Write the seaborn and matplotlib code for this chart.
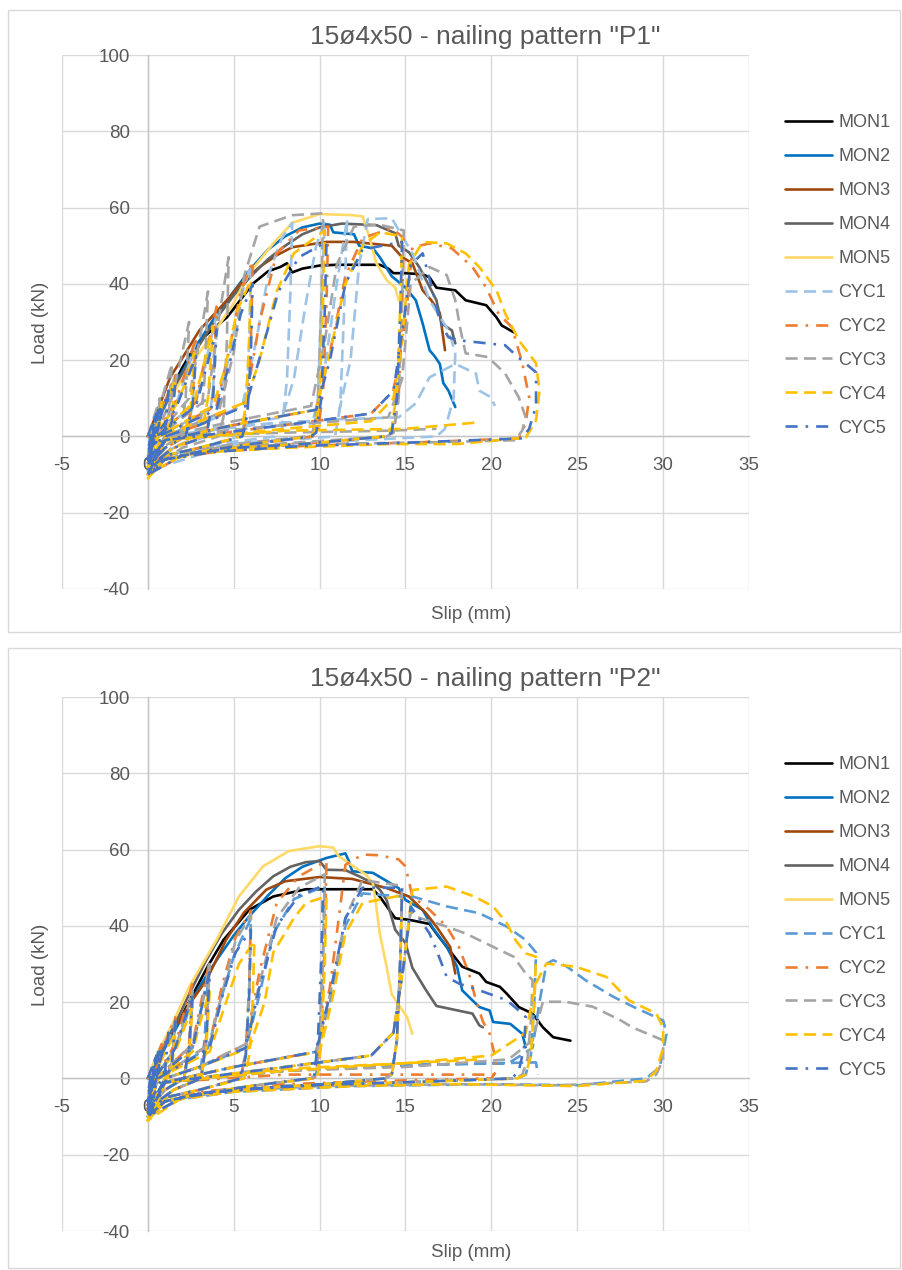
import matplotlib
matplotlib.use("Agg")
import matplotlib.pyplot as plt
from matplotlib.lines import Line2D
from matplotlib.patches import Rectangle
import pandas as pd
import seaborn as sns

# ---------------- data ----------------
SERIES = ["MON1", "MON2", "MON3", "MON4", "MON5", "CYC1", "CYC2", "CYC3", "CYC4", "CYC5"]
TITLES = ['15ø4x50 - nailing pattern "P1"', '15ø4x50 - nailing pattern "P2"']
X_TICKS = [-5, 0, 5, 10, 15, 20, 25, 30, 35]
Y_TICKS = [-40, -20, 0, 20, 40, 60, 80, 100]
X_LABEL = "Slip (mm)"
Y_LABEL = "Load (kN)"

# ---- pattern P1 ----
P1_MON1 = [(0, 0), (0.5, 4.5), (1, 9), (2, 18), (2.6, 22.5), (3, 25), (4, 29), (4.6, 31.2), (5, 33.5),
           (6.1, 40), (7, 43.3), (7.7, 44.4), (8.1, 45.4), (8.4, 43), (9, 44), (10, 44.8), (11, 45),
           (13.5, 45), (14, 44), (14.3, 42.8), (15, 42.8), (16, 42.5), (16.4, 41.7), (16.8, 39),
           (17.9, 38.3), (18.5, 35.7), (19.7, 34.4), (20.3, 31.2), (20.6, 29.1), (21.3, 27.3)]
P1_MON2 = [(0, 0), (1, 9), (2, 17), (3, 25), (4, 32), (5, 38), (6, 44), (7, 49), (8, 52.5), (9, 54.8),
           (10, 55.8), (10.6, 55.5), (10.8, 53.5), (12, 53), (12.3, 50), (13.1, 49.3), (13.5, 47),
           (14.2, 42), (15, 39), (15.6, 35.7), (16, 29.6), (16.4, 22.6), (16.7, 21), (17, 19),
           (17.2, 14), (17.5, 12), (17.9, 7.7)]
P1_MON3 = [(0, 0), (0.5, 6), (1.3, 15.5), (2, 20.5), (3, 27.8), (4.6, 35.7), (5.5, 40.5), (6.5, 44.4),
           (7.5, 47.5), (8.4, 49.6), (10.4, 51), (12, 51), (14.2, 50), (14.8, 47), (15.4, 45.4),
           (16, 38.3), (16.5, 35.7), (17, 32.3), (17.3, 22.6)]
P1_MON4 = [(0, 0), (1, 8.5), (2, 16.5), (3, 24), (4, 31), (5, 37), (6, 42), (7, 46.5), (8, 50), (9, 53),
           (10, 54.8), (11.3, 55.8), (13.3, 55.4), (14.4, 53.3), (14.6, 50), (15.2, 48.3), (15.8, 44.4),
           (16.2, 41), (16.8, 35.7), (17.1, 29.6), (17.7, 27.8), (17.9, 24.4)]
P1_MON5 = [(0, 0), (1, 8), (2, 15), (3, 22), (4.2, 29.6), (5, 35), (5.9, 42.8), (7.3, 50.6), (8.4, 56),
           (10, 58.3), (11.9, 58), (12.5, 57.7), (12.9, 52.2), (13.3, 45.4), (13.9, 41), (14.4, 39),
           (14.6, 35.7)]
P1_CYC1 = [(0, 0), (0.8, 9), (0.6, 2), (0.3, -2), (0, -5),
           (0.3, 0), (0.8, 6), (1.6, 16), (1.4, 4), (1, -1), (0, -6),
           (0.4, 0), (1.6, 8), (2.2, 16), (2.8, 25), (2.6, 8), (2.2, 0), (1, -3), (0, -7),
           (0.5, 0), (2.8, 9), (3.4, 20), (4, 32), (3.8, 12), (3.4, 0), (1.5, -3), (0, -8),
           (0.6, 0), (4, 8), (4.8, 22), (5.3, 35), (6, 45), (5.9, 25), (5.7, 6), (5.3, 0), (3, -3), (1, -5), (0, -8),
           (1, 0), (3, 3), (5.5, 8), (6.3, 25), (7, 42), (7.8, 52), (8.4, 56), (8.3, 38), (8.1, 15), (7.8, 2),
           (7.4, 0), (4, -2), (1, -5), (0, -9),
           (1, 0), (5, 3), (7.8, 5), (8.5, 15), (9.2, 35), (9.8, 50), (10.3, 56.5), (10.1, 35), (9.9, 10),
           (9.6, 0), (5, -2), (1, -5), (0, -9),
           (1, 0), (6, 3), (9.6, 4), (10.2, 15), (11, 40), (11.6, 57), (11.4, 30), (11.2, 8), (10.9, 0),
           (5, -2), (0, -9),
           (1, 0), (8, 3), (11, 4), (11.8, 20), (12.3, 45), (12.8, 57), (14.2, 57.2), (15.4, 48),
           (16.4, 35.7), (17.5, 27.8), (17.9, 22), (17.8, 10), (17.3, 2), (16.8, 0), (10, -1.5), (4, -3),
           (1, -6), (0, -9),
           (1, 0), (6, 3), (11, 4.5), (14.6, 5), (15.6, 8.7), (16.4, 15.5), (17.9, 19), (19.1, 16.5),
           (19.3, 12), (20, 10.2), (20.2, 8)]
P1_CYC2 = [(0, 0), (0.8, 9), (0.6, 2), (0.3, -2), (0, -6),
           (0.3, 0), (0.8, 7), (1.6, 16), (1.4, 5), (1, -1), (0, -7),
           (0.4, 0), (1.6, 9), (2.2, 17), (2.8, 26), (2.6, 9), (2.2, 0), (1, -3), (0, -8),
           (0.5, 0), (2.8, 9), (3.4, 22), (4, 34), (3.8, 12), (3.4, 0), (1.5, -3), (0, -8),
           (0.6, 0), (4, 8), (4.8, 24), (5.4, 38), (6.1, 46), (6, 25), (5.8, 7), (5.5, 0), (3, -3), (1, -5), (0, -9),
           (1, 0), (3, 3), (5.7, 9), (6.5, 30), (7.5, 48), (8.8, 54), (10.5, 55), (10.4, 35), (10.2, 12),
           (9.9, 1), (9.6, 0), (6, -2), (3, -4), (1, -6), (0, -10),
           (1, -1), (5, 3), (9.8, 7), (10.6, 22), (11.5, 42), (12.5, 52), (14.2, 54.6), (14.9, 52),
           (14.8, 33), (14.6, 10), (14.3, 1), (13.9, 0), (9, -2), (5, -3), (2, -5), (0, -10),
           (1, -1), (8, 3), (13, 6), (14.3, 12), (15, 30), (15.4, 49.6), (16.4, 50.6), (17.7, 49.3),
           (18.9, 44.4), (19.7, 39), (20.4, 32.3), (21.2, 28.6), (21.8, 19.2), (22.2, 10.2), (22, 3.4),
           (21.6, -0.5), (16, -1.5), (9, -2.5), (4, -4), (1, -6), (0, -10)]
P1_CYC3 = [(0, 0), (0.7, 10), (0.5, 2), (0.2, -2), (0, -6),
           (0.3, 0), (0.7, 8), (1.4, 19), (1.2, 5), (0.9, -1), (0, -7),
           (0.4, 0), (1.4, 10), (1.9, 20), (2.4, 30), (2.2, 10), (1.9, 0), (0.8, -3), (0, -8),
           (0.5, 0), (2.4, 10), (3, 25), (3.5, 38), (3.3, 15), (3, 0), (1.4, -3), (0, -8),
           (0.6, 0), (3.5, 10), (4.1, 30), (4.7, 47), (4.6, 25), (4.4, 5), (4.1, 0), (2, -3), (0, -9),
           (1, 0), (4.1, 6), (5, 22), (5.6, 42), (6.5, 55), (8.4, 58), (10.2, 58.5), (10.1, 35), (9.9, 10),
           (9.6, 1), (9.2, 0), (5, -2), (1, -5), (0, -10),
           (1, 0), (5, 4), (9.5, 8), (10.3, 25), (11, 45), (12, 55), (13.5, 55.5), (14.9, 54),
           (14.8, 35), (14.6, 10), (14.3, 1), (13.9, 0), (9, -1.5), (4, -3), (1, -6), (0, -10),
           (1, 0), (8, 3), (14, 5), (14.8, 15), (15.3, 40), (16.4, 44.4), (17.4, 42.3), (17.9, 35.7),
           (18.2, 28), (18.5, 21.8), (19.8, 20.8), (20.8, 16.5), (21.6, 10.2), (22, 5), (21.8, 1.6),
           (21.4, -1), (17, -1.5), (10, -2), (4, -3), (1, -6), (0, -10),
           (1, 0), (8, 1), (14, 1.5), (16.8, 2)]
P1_CYC4 = [(0, 0), (0.8, 9), (0.7, 3), (0.4, -2), (0, -6),
           (0.3, 0), (0.8, 6), (1.6, 15), (1.4, 5), (1, -1), (0.4, -3), (0, -7),
           (0.4, 0), (1.6, 8), (2.2, 14), (2.7, 22), (2.5, 8), (2.1, 0), (1, -3), (0, -8),
           (0.5, 0), (2.7, 9), (3.2, 18), (3.8, 29), (3.5, 10), (3.1, 0), (1.5, -3), (0, -8),
           (0.6, 0), (3.8, 8), (4.5, 18), (5.2, 33), (6, 41), (5.9, 25), (5.7, 8), (5.4, 0), (3, -3), (1, -5), (0, -9),
           (0.8, 0), (3, 4), (5.7, 9), (6.5, 20), (7.5, 38), (8.5, 48), (10.3, 54), (10.2, 35), (10, 12),
           (9.8, 2), (9.5, 0), (6, -2), (3, -4), (1, -6), (0, -10),
           (1, -1), (5, 3), (9.8, 7), (10.5, 20), (11.5, 40), (12.5, 50), (13.5, 53.5), (14.8, 52.5),
           (14.7, 35), (14.5, 12), (14.2, 2), (13.8, 0), (9, -2), (5, -3), (2, -5), (0, -10),
           (1, -1), (8, 2), (13, 4), (14.3, 10), (14.8, 25), (15.2, 45), (16, 51), (17.4, 50.6),
           (18.5, 48), (19.3, 44.4), (20.3, 38.3), (20.8, 32.3), (21.6, 25.2), (22.6, 19.2), (22.8, 12),
           (22.6, 4.2), (22, -0.3), (18, -2), (14, -2), (8, -3), (4, -4), (1, -6), (0, -11),
           (1, -1), (8, 1.5), (15, 2), (19.3, 3.7)]
P1_CYC5 = [(0, 0), (0.4, 5), (0.3, 0), (0, -4), (0.2, 1), (0.5, 6), (0.3, 0), (0, -5), (0.6, 7),
           (0.4, 0), (0, -6), (1.2, 12), (1, 2), (0.5, -3), (0, -7),
           (0.2, 1), (0.8, 8), (0.6, 2), (0.3, -2), (0, -6),
           (0.3, 0), (0.8, 6), (1.6, 14), (1.4, 4), (1, -1), (0, -7),
           (0.4, 0), (1.6, 7), (2.2, 14), (2.8, 21), (2.6, 8), (2.2, 0), (1, -3), (0, -8),
           (0.5, 0), (2.8, 8), (3.4, 18), (4, 28), (3.8, 10), (3.4, 0), (1.5, -3), (0, -8),
           (0.6, 0), (4, 7), (4.8, 20), (5.4, 32), (6.1, 40), (6, 22), (5.8, 6), (5.5, 0), (3, -3), (1, -5), (0, -9),
           (1, 0), (3, 3), (5.7, 8), (6.6, 22), (7.6, 38), (8.8, 47), (10.4, 51), (10.3, 33), (10.1, 10),
           (9.8, 1), (9.5, 0), (6, -2), (3, -4), (1, -6), (0, -10),
           (1, -1), (5, 3), (9.8, 7), (10.6, 20), (11.5, 40), (12.5, 49), (14.8, 51), (14.7, 33),
           (14.5, 10), (14.2, 1), (13.8, 0), (9, -2), (5, -3), (2, -5), (0, -10),
           (1, -1), (8, 3), (13, 6), (14.3, 12), (14.9, 30), (15.3, 45), (16, 48), (16.6, 38), (17, 30),
           (17.5, 26), (18.1, 25.2), (20.8, 23.9), (21.5, 21), (22.6, 16.8), (22.6, 8), (22.2, 2),
           (21.8, -0.5), (16, -1.5), (9, -2.5), (4, -4), (1, -6), (0, -10)]

# ---- pattern P2 ----
P2_MON1 = [(0, 0), (0.5, 5), (1.45, 11.7), (2.5, 21), (3.5, 29.5), (4.4, 36.3), (5.9, 44.2), (7.3, 47.7),
           (9.2, 49.6), (13.1, 49.6), (13.5, 47.7), (14.4, 42), (15.2, 41.6), (16.4, 40.5), (16.8, 38),
           (17.4, 34.5), (18.3, 29.3), (19.3, 27.5), (19.7, 25.3), (20.5, 24), (20.9, 22.2), (21.6, 18.7),
           (22.4, 17), (23, 13.4), (23.6, 10.8), (24.6, 9.9)]
P2_MON2 = [(0, 0), (1, 8), (2, 16), (3, 24), (4, 31), (5, 37.5), (6, 43), (7, 48), (8, 52.5), (9, 55.5),
           (10.4, 57.8), (11.5, 59), (11.7, 57), (11.9, 54.3), (13.1, 53.9), (14.6, 49.9), (15, 46.8),
           (16, 44.2), (16.6, 39.4), (17.4, 34.5), (18, 29.3), (18.3, 23.1), (19.3, 18.7), (19.9, 17.8),
           (20.1, 14.8), (21.1, 14.3), (21.8, 11.7), (22, 8.2)]
P2_MON3 = [(0, 0), (0.5, 5), (1.45, 12.6), (2.5, 20), (3.4, 25.7), (4.55, 36.3), (5.6, 43.5), (6.9, 49.5),
           (8, 51.7), (10, 52.8), (11.9, 52.3), (13.9, 49.9), (15.2, 47.7), (16.2, 43.3), (16.8, 39.8),
           (17.6, 34.5), (17.9, 27.5)]
P2_MON4 = [(0, 0), (0.5, 5.5), (1.5, 13.5), (2.5, 23), (3.4, 31), (4.3, 38), (5.3, 44.2), (6.3, 49),
           (7.3, 53), (8.3, 55.5), (9.2, 56.7), (10, 57), (10.4, 54.7), (11.5, 54.6), (12.3, 53),
           (13.1, 51.2), (13.5, 49.5), (13.9, 46.8), (14.4, 39), (15, 35.5), (15.4, 29), (16.2, 23.1),
           (16.8, 19), (18.9, 17), (19.3, 13.9), (19.5, 13.4)]
P2_MON5 = [(0, 0), (0.5, 6), (1.5, 15), (2.4, 24), (4, 36.3), (5.3, 47.7), (6.7, 55.6), (8.2, 59.6),
           (10, 60.9), (10.8, 60.5), (11.1, 58.3), (12.7, 53.4), (13.1, 51.2), (13.3, 45), (13.5, 38),
           (13.9, 29.3), (14.2, 22), (14.7, 18.7), (15.1, 16), (15.4, 11.7)]
P2_CYC1 = [(0, 0), (0.8, 8), (0.6, 2), (0.3, -2), (0, -6),
           (0.3, 0), (0.8, 6), (1.6, 14), (1.4, 4), (1, -1), (0, -7),
           (0.4, 0), (1.6, 8), (2.1, 14), (2.6, 21), (2.4, 7), (2.1, 0), (1, -3), (0, -8),
           (0.5, 0), (2.6, 8), (3, 16), (3.5, 27), (3.3, 10), (3, 0), (1.5, -3), (0, -8),
           (0.6, 0), (3.5, 8), (4.2, 20), (5, 32), (6, 42), (5.9, 22), (5.7, 6), (5.4, 0), (3, -3), (1, -5), (0, -9),
           (1, 0), (3, 3), (5.7, 8), (6.5, 22), (7.3, 38), (8.5, 47), (10.3, 50.5), (10.2, 32), (10, 10),
           (9.8, 1), (9.5, 0), (6, -2), (3, -4), (1, -6), (0, -10),
           (1, -1), (5, 3), (9.8, 7), (10.6, 20), (11.5, 40), (12.5, 48.5), (14.8, 47.7), (14.7, 30),
           (14.5, 10), (14.2, 1), (13.8, 0), (9, -2), (5, -3), (2, -5), (0, -10),
           (1, -1), (8, 3), (13, 6), (14.3, 12), (14.9, 30), (15.4, 47.7), (17.4, 45.1), (19.3, 43.3),
           (20.9, 39.8), (22, 36.3), (22.6, 33), (22.5, 20), (22.3, 6), (22, 1), (21.5, 0), (15, -1),
           (8, -2), (3, -4), (1, -6), (0, -10),
           (1, -1), (8, 2), (15, 3.5), (21, 4), (22.4, 8), (22.8, 20), (23.2, 30), (23.6, 31), (24.4, 29.3),
           (25.5, 25.7), (27.1, 21.4), (28.3, 18.7), (30, 15.2), (30.2, 11.7), (29.8, 2.9), (29, 0),
           (25, -1.8), (20, -1.5), (12, -2), (5, -3.5), (1, -6), (0, -10),
           (1, -1), (8, 2), (15, 3.5), (22.6, 4.2), (22.7, 1)]
P2_CYC2 = [(0, 0), (0.8, 9), (0.6, 2), (0.3, -2), (0, -6),
           (0.3, 0), (0.8, 7), (1.6, 16), (1.4, 5), (1, -1), (0, -7),
           (0.4, 0), (1.6, 9), (2.1, 17), (2.6, 25), (2.4, 9), (2.1, 0), (1, -3), (0, -8),
           (0.5, 0), (2.6, 9), (3.1, 20), (3.6, 31), (3.4, 11), (3.1, 0), (1.5, -3), (0, -8),
           (0.6, 0), (3.6, 9), (4.3, 24), (5.1, 37), (6, 44), (5.9, 24), (5.7, 7), (5.4, 0), (3, -3), (1, -5), (0, -9),
           (1, 0), (3, 3), (5.7, 9), (6.5, 28), (7.5, 46), (8.8, 53), (10.4, 57), (10.3, 36), (10.1, 12),
           (9.9, 1), (9.6, 0), (6, -2), (3, -4), (1, -6), (0, -10),
           (1, -1), (5, 3), (9.8, 7), (10.6, 24), (11.2, 45), (11.5, 56), (12.5, 58.7), (13.5, 58.5),
           (14.6, 57.4), (15, 55.6), (15.4, 47.7), (16.4, 44.2), (17.4, 39.8), (18.1, 34.5), (18.7, 27.5),
           (19.1, 20.5), (19.5, 15), (19.9, 11.7), (20.2, 6), (20.3, 2), (20, 0), (15, -0.5), (8, -1.5),
           (3, -3.5), (1, -6), (0, -10),
           (1, -1), (8, 1), (15, 1), (20.5, 1)]
P2_CYC3 = [(0, 0), (0.8, 8), (0.6, 2), (0.3, -2), (0, -6),
           (0.3, 0), (0.8, 6), (1.6, 15), (1.4, 4), (1, -1), (0, -7),
           (0.4, 0), (1.6, 8), (2.1, 15), (2.6, 23), (2.4, 8), (2.1, 0), (1, -3), (0, -8),
           (0.5, 0), (2.6, 9), (3.1, 18), (3.6, 30), (3.4, 10), (3.1, 0), (1.5, -3), (0, -8),
           (0.6, 0), (3.6, 9), (4.3, 22), (5.1, 36), (6, 43), (5.9, 24), (5.7, 7), (5.4, 0), (3, -3), (1, -5), (0, -9),
           (1, 0), (3, 3), (5.7, 9), (6.5, 25), (7.5, 42), (8.8, 50), (10.3, 53.5), (10.2, 33), (10, 10),
           (9.8, 1), (9.5, 0), (6, -2), (3, -4), (1, -6), (0, -10),
           (1, -1), (5, 3), (9.8, 7), (10.6, 22), (11.5, 42), (12.5, 52), (14.8, 50.5), (14.7, 32),
           (14.5, 10), (14.2, 1), (13.8, 0), (9, -2), (5, -3), (2, -5), (0, -10),
           (1, -1), (8, 3), (13, 6), (14.3, 12), (14.9, 30), (15.3, 44), (15.6, 42.4), (17.4, 39.8),
           (18.5, 38), (20.1, 34.5), (21.3, 31.9), (22, 27.5), (22.4, 25.8), (22.3, 15), (22.1, 5),
           (21.8, 1), (21.4, 0), (15, -1), (8, -2), (3, -4), (1, -6), (0, -10),
           (1, -1), (8, 2), (15, 3), (21, 5), (22.4, 10), (23, 20.1), (24.3, 20.1), (25.9, 18.8),
           (27.5, 15.3), (28.2, 13.4), (30, 10), (30, 5), (29.6, 1), (29, -0.8), (24, -1.8), (18, -1.5),
           (10, -2), (4, -3.5), (1, -6), (0, -10)]
P2_CYC4 = [(0, 0), (0.8, 7), (0.6, 2), (0.3, -2), (0, -7),
           (0.3, 0), (0.8, 5), (1.6, 12), (1.4, 3), (1, -1), (0, -8),
           (0.4, 0), (1.6, 7), (2.1, 13), (2.6, 19), (2.4, 6), (2.1, 0), (1, -3), (0, -9),
           (0.5, 0), (2.6, 7), (3, 14), (3.6, 23), (3.4, 8), (3.1, 0), (1.5, -3), (0, -9),
           (0.6, 0), (3.6, 7), (4.4, 18), (5.3, 30), (6.2, 36), (6.1, 20), (5.9, 6), (5.6, 0), (3, -3), (1, -5), (0, -10),
           (1, 0), (3, 3), (5.9, 8), (6.8, 20), (7.3, 33), (8.5, 42), (9.2, 46), (10.4, 47.7), (10.3, 30),
           (10.1, 10), (9.9, 1), (9.6, 0), (6, -2), (3, -4), (1, -6), (0, -11),
           (1, -1), (5, 3), (10, 7), (10.7, 20), (11.5, 38), (12.5, 46), (14.8, 48), (14.7, 30), (14.5, 10),
           (14.2, 1), (13.8, 0), (9, -2), (5, -3), (2, -5), (0, -11),
           (1, -1), (8, 3), (13, 6), (14.3, 12), (14.9, 30), (15.4, 49.4), (17.4, 50.3), (19, 47.7),
           (20.1, 45.1), (20.9, 40.7), (21.4, 36.3), (22, 32.8), (22.6, 31.9), (22.5, 20), (22.3, 6),
           (22, 1), (21.5, 0), (15, -1), (8, -2), (3, -4), (1, -6), (0, -11),
           (1, -1), (8, 2), (15, 4), (20, 6), (22, 12), (22.6, 25), (23.2, 30.1), (24.9, 29.3),
           (26.7, 26.6), (28, 20.5), (29.6, 17), (30, 13.4), (30, 8), (29.6, 2), (29, -0.6), (25, -2),
           (18, -1.5), (12, -2), (5, -3.5), (1, -6), (0, -11),
           (1, -1), (8, 2.5), (15, 4), (19.5, 5)]
P2_CYC5 = [(0, 0), (0.4, 5), (0.3, 0), (0, -4), (0.2, 1), (0.5, 6), (0.3, 0), (0, -5), (0.6, 7),
           (0.4, 0), (0, -6), (1.2, 12), (1, 2), (0.5, -3), (0, -7),
           (0.2, 1), (0.8, 8), (0.6, 2), (0.3, -2), (0, -6),
           (0.3, 0), (0.8, 6), (1.6, 15), (1.4, 4), (1, -1), (0, -7),
           (0.4, 0), (1.6, 8), (2.1, 15), (2.6, 22), (2.4, 8), (2.1, 0), (1, -3), (0, -8),
           (0.5, 0), (2.6, 8), (3.1, 18), (3.6, 28), (3.4, 10), (3.1, 0), (1.5, -3), (0, -8),
           (0.6, 0), (3.6, 8), (4.3, 21), (5.1, 33), (6, 39), (5.9, 22), (5.7, 6), (5.4, 0), (3, -3), (1, -5), (0, -9),
           (1, 0), (3, 3), (5.7, 8), (6.5, 24), (7.5, 40), (8.8, 48), (10.2, 50.5), (10.1, 32), (9.9, 10),
           (9.7, 1), (9.4, 0), (6, -2), (3, -4), (1, -6), (0, -10),
           (1, -1), (5, 3), (9.8, 7), (10.6, 22), (11.5, 42), (12.5, 50), (14.8, 50), (14.7, 32), (14.5, 10),
           (14.2, 1), (13.8, 0), (9, -2), (5, -3), (2, -5), (0, -10),
           (1, -1), (8, 3), (13, 6), (14.3, 12), (14.9, 30), (15.3, 45), (15.8, 42), (16.4, 38),
           (16.8, 33.7), (17.4, 26.6), (18.1, 24.9), (19.3, 23.1), (20.9, 20.5), (21.6, 17.8), (22, 16.1),
           (21.9, 8), (21.6, 2), (21.2, 0), (15, -1), (8, -2), (3, -4), (1, -6), (0, -10)]

PANEL_DATA = [
    [P1_MON1, P1_MON2, P1_MON3, P1_MON4, P1_MON5, P1_CYC1, P1_CYC2, P1_CYC3, P1_CYC4, P1_CYC5],
    [P2_MON1, P2_MON2, P2_MON3, P2_MON4, P2_MON5, P2_CYC1, P2_CYC2, P2_CYC3, P2_CYC4, P2_CYC5],
]

# ---------------- style ----------------
BASE_COLORS = {"MON1": "#000000", "MON2": "#0070C0", "MON3": "#9E480E", "MON4": "#636363",
               "MON5": "#FFD966", "CYC2": "#ED7D31", "CYC3": "#A5A5A5", "CYC4": "#FFC000",
               "CYC5": "#4472C4"}
CYC1_COLORS = ["#9DC3E6", "#5B9BD5"]
DASH = (4.6, 2.4)
DASHDOT = (4.6, 3.0, 1.0, 3.0)
DASHES = {"MON1": "", "MON2": "", "MON3": "", "MON4": "", "MON5": "",
          "CYC1": DASH, "CYC2": DASHDOT, "CYC3": DASH, "CYC4": DASH, "CYC5": DASHDOT}
LW = 1.9
TXT = "#595959"
GRID = "#d9d9d9"

sns.set_theme(style="white")
plt.rcParams["font.family"] = ["Liberation Sans", "DejaVu Sans"]

W, H = 903, 1270
fig = plt.figure(figsize=(W / 100, H / 100), dpi=100)

# pixel geometry of each panel: (frame_top, frame_bottom, plot_top(100), plot_bottom(-40))
PANELS = [(10, 632, 55, 589), (648, 1268, 697, 1231)]
PLOT_LEFT, PLOT_RIGHT = 62, 749

for i, (ftop, fbot, ptop, pbot) in enumerate(PANELS):
    fig.patches.append(Rectangle((8 / W, 1 - fbot / H), 892 / W, (fbot - ftop) / H,
                                 transform=fig.transFigure, fill=False,
                                 edgecolor=GRID, linewidth=1.0, zorder=0))
    ax = fig.add_axes([PLOT_LEFT / W, 1 - pbot / H, (PLOT_RIGHT - PLOT_LEFT) / W, (pbot - ptop) / H])
    ax.set_facecolor("none")

    rows = []
    for name, pts in zip(SERIES, PANEL_DATA[i]):
        for k, (x, y) in enumerate(pts):
            rows.append({"series": name, "idx": k, "slip": x, "load": y})
    df = pd.DataFrame(rows)

    pal = dict(BASE_COLORS)
    pal["CYC1"] = CYC1_COLORS[i]

    sns.lineplot(data=df, x="slip", y="load", hue="series", style="series",
                 hue_order=SERIES, style_order=SERIES, palette=pal, dashes=DASHES,
                 sort=False, estimator=None, legend=False, linewidth=LW, ax=ax)

    ax.set_xlim(-5, 35)
    ax.set_ylim(-40, 100)
    ax.set_xticks(X_TICKS)
    ax.set_yticks(Y_TICKS)
    ax.set_xticklabels([str(v) for v in X_TICKS])
    ax.set_yticklabels([str(v) for v in Y_TICKS])
    ax.grid(True, color=GRID, linewidth=1.0)
    ax.set_axisbelow(True)
    for s in ["top", "right"]:
        ax.spines[s].set_visible(False)
    ax.spines["bottom"].set_position(("data", 0))
    ax.spines["left"].set_position(("data", 0))
    for s in ["bottom", "left"]:
        ax.spines[s].set_color("#c4c4c4")
        ax.spines[s].set_linewidth(1.0)
        ax.spines[s].set_zorder(0.6)
    ax.tick_params(axis="both", length=0, labelsize=13.5, labelcolor=TXT)
    ax.tick_params(axis="x", pad=15)
    ax.tick_params(axis="y", pad=13)

    ax.set_xlabel(X_LABEL, fontsize=13.5, color=TXT)
    ax.set_ylabel(Y_LABEL, fontsize=13.5, color=TXT)
    ax.xaxis.set_label_coords(0.595, -0.032 if i == 0 else -0.025)
    ax.yaxis.set_label_coords(-0.019, 0.498)

    ax.text(0.6157, 1 + 18 / (pbot - ptop), TITLES[i], transform=ax.transAxes,
            ha="center", va="center", fontsize=19, color=TXT)

    handles = [Line2D([], [], color=pal[n], linewidth=LW,
                      linestyle=(0, DASHES[n]) if DASHES[n] else "-") for n in SERIES]
    ax.legend(handles, SERIES, loc="upper left",
              bbox_to_anchor=(785 / W, 1 - (ptop + 59) / H), bbox_transform=fig.transFigure,
              frameon=False, fontsize=13, labelcolor=TXT, handlelength=2.6,
              handletextpad=0.35, labelspacing=0.94, borderpad=0, borderaxespad=0)

fig.savefig("out.png", dpi=100, facecolor="white")
